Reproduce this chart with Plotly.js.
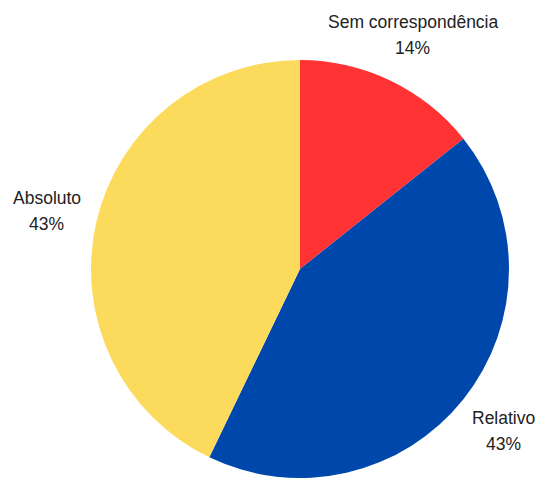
<!DOCTYPE html>
<html>
<head>
<meta charset="utf-8">
<script src="https://cdn.plot.ly/plotly-3.0.1.min.js"></script>
<style>html,body{margin:0;padding:0;background:#fff;}#chart{width:538px;height:481px;}</style>
</head>
<body>
<div id="chart"></div>
<script>
// Data
const categories = ["Sem correspondência", "Relativo", "Absoluto"];
const values = [1, 3, 3];
const colors = ["#FF3333", "#0047AB", "#FCDB5C"];

const W = 538, H = 481;
const cx = 300, cy = 269, R = 209;   // pie geometry in pixels
const labelR = 260;                   // label distance from centre
const fontSize = 17.5;

const total = values.reduce((a, b) => a + b, 0);
const annotations = [];
let cum = 0;
values.forEach((v, i) => {
  const mid = (cum + v / 2) / total * 2 * Math.PI; // clockwise from 12 o'clock
  cum += v;
  const px = cx + labelR * Math.sin(mid);
  const py = cy - labelR * Math.cos(mid);
  const pct = Math.round(v / total * 100) + "%";
  [[categories[i], 13], [pct, -13]].forEach(([t, s]) => {
    annotations.push({
      text: t, xref: "paper", yref: "paper",
      x: px / W, y: 1 - py / H, xanchor: "center", yanchor: "middle",
      yshift: s, showarrow: false,
      font: {family: "Liberation Sans, Arial, sans-serif", size: fontSize, color: "#222"}
    });
  });
});

const trace = {
  type: "pie",
  labels: categories,
  values: values,
  sort: false,
  direction: "clockwise",
  rotation: 0,
  textinfo: "none",
  hoverinfo: "label+percent",
  marker: {colors: colors, line: {width: 0}},
  domain: {x: [(cx - R) / W, (cx + R) / W], y: [1 - (cy + R) / H, 1 - (cy - R) / H]},
  showlegend: false
};

Plotly.newPlot("chart", [trace], {
  width: W, height: H,
  margin: {l: 0, r: 0, t: 0, b: 0},
  paper_bgcolor: "#fff",
  showlegend: false,
  annotations: annotations
}, {displayModeBar: false, staticPlot: true});
</script>
</body>
</html>
